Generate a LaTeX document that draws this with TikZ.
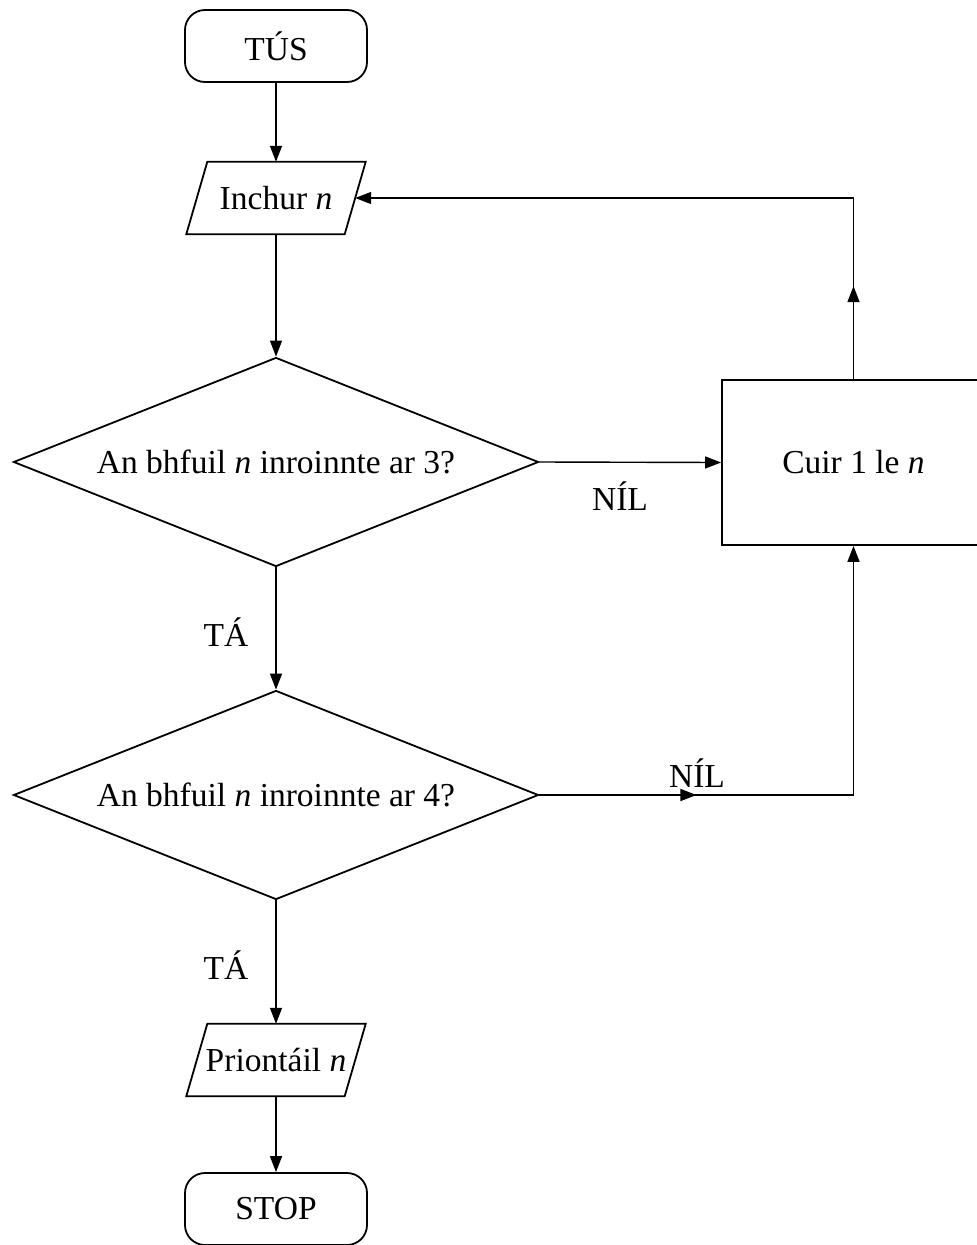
\documentclass[tikz,border=0pt]{standalone}
\usepackage{fontspec}
\setmainfont{Liberation Serif}
\usetikzlibrary{shapes.geometric,arrows.meta,decorations.markings}
\tikzset{midtip/.tip={Triangle[length=16pt,width=12pt]}}
\begin{document}
\begin{tikzpicture}[x=1pt,y=-1pt,
  font=\fontsize{33.5}{40}\selectfont,
  box/.style={draw,line width=1.8pt,inner sep=0pt},
  term/.style={box,rounded corners=20pt,minimum width=182pt,minimum height=72pt},
  io/.style={rectangle,inner sep=0pt,minimum width=179pt,minimum height=72pt},
  iobox/.style={line width=1.8pt,line join=miter},
  decision/.style={box,diamond,aspect=2.51,minimum width=525pt,minimum height=209pt},
  proc/.style={box,rectangle,minimum width=263pt,minimum height=165pt},
  conn/.style={line width=1.4pt,-{midtip}},
  lbl/.style={inner sep=0pt}
]
\useasboundingbox (0,0) rectangle (977,1245);
\fill[white] (0,0) rectangle (977,1245);

\node[term] (tus) at (276,46) {TÚS};
\node[io] (inchur) at (276,198) {Inchur \textit{n}};
\draw[iobox] ([xshift=21pt]inchur.north west) -- (inchur.north east)
  -- ([xshift=-21pt]inchur.south east) -- (inchur.south west) -- cycle;
\coordinate (inchurR) at ([xshift=-10.5pt]inchur.east);
\node[decision] (d1) at (276,462) {An bhfuil \textit{n} inroinnte ar 3?};
\node[decision] (d2) at (276,795) {An bhfuil \textit{n} inroinnte ar 4?};
\node[io] (print) at (276,1060) {Priontáil \textit{n}};
\draw[iobox] ([xshift=21pt]print.north west) -- (print.north east)
  -- ([xshift=-21pt]print.south east) -- (print.south west) -- cycle;
\node[term] (stop) at (276,1209) {STOP};
\node[proc] (cuir) at (853.5,462.5) {Cuir 1 le \textit{n}};

\draw[conn] (tus) -- (inchur);
\draw[conn] (inchur) -- (d1);
\draw[conn] (d1) -- (d2);
\draw[conn] (d2) -- (print);
\draw[conn] (print) -- (stop);
\draw[conn] (d1.east) -- (cuir.west);

\draw[conn,postaction={decorate},
  decoration={markings,mark=at position 157pt with {\arrow{midtip}}}]
  (d2.east) -- (cuir.south |- d2.east) -- (cuir.south);
\draw[conn,postaction={decorate},
  decoration={markings,mark=at position 93pt with {\arrow{midtip}}}]
  (cuir.north) -- (cuir.north |- inchurR) -- (inchurR);

\node[lbl] (nil1) at (620,496) {NÍL};
\node[lbl] (nil2) at (697,773) {NÍL};
\node[lbl] (ta1) at (226,632) {TÁ};
\node[lbl] (ta2) at (226,965) {TÁ};
\end{tikzpicture}
\end{document}
